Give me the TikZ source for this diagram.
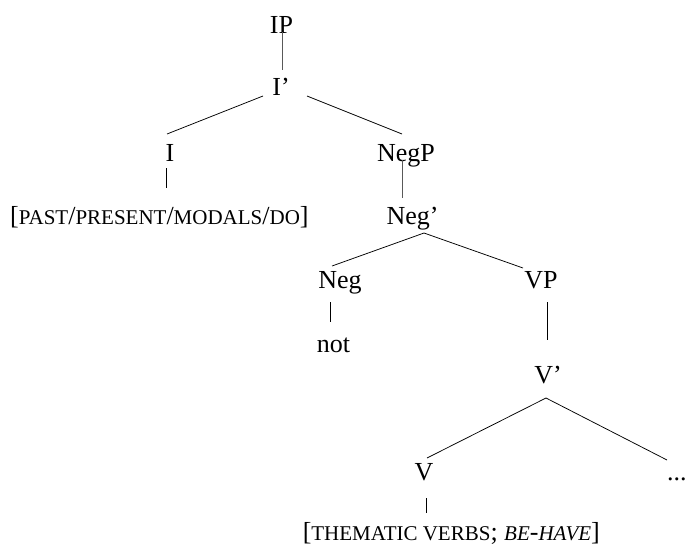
\documentclass[tikz,border=0pt]{standalone}
\usepackage{fontspec}
\setmainfont{Liberation Serif}
\usetikzlibrary{calc}

% small capitals drawn as reduced upper-case letters
\newcommand{\smallcapstext}[1]{{\fontsize{21}{21}\selectfont #1}}

\tikzset{
  lab/.style={inner sep=0pt, anchor=base, font=\fontsize{26}{26}\selectfont},
  branch/.style={line width=0.75pt, black},
  stem/.style={line width=0.8pt, black!65},
}

\begin{document}
\begin{tikzpicture}[x=1pt, y=-1pt]
  \useasboundingbox (0,0) rectangle (687,547);

  % labels of the tree
  \node[lab] (ip)   at (281.5,33)  {IP};
  \node[lab] (ibar) at (281,95)    {I’};
  \node[lab] (i)    at (170,161.5) {I};
  \node[lab] (negp) at (406,161.5) {NegP};
  \node[lab, anchor=base west] (ifeat) at (10,224)
    {[\smallcapstext{PAST}/\smallcapstext{PRESENT}/\smallcapstext{MODALS}/\smallcapstext{DO}]};
  \node[lab] (negbar) at (412.5,224) {Neg’};
  \node[lab] (neg)  at (340,288)   {Neg};
  \node[lab] (vp)   at (541,288)   {VP};
  \node[lab] (not)  at (333.5,352) {not};
  \node[lab] (vbar) at (548,383)   {V’};
  \node[lab] (v)    at (424,480)   {V};
  \node[lab, anchor=base west] (dots) at (667,480) {...};
  \node[lab, anchor=base east] (vfeat) at (600,540)
    {[\smallcapstext{THEMATIC VERBS}; \smallcapstext{\itshape BE}-\smallcapstext{\itshape HAVE}]};

  % branches
  \draw[stem]   ($(ip.base)+(0.5,-1)$) -- ($(ibar.base)+(1,-25)$);
  \draw[branch] ($(ibar.base)+(-18,1)$) -- ($(i.base)+(-3,-27.5)$);
  \draw[branch] ($(ibar.base)+(26,1)$) -- ($(negp.base)+(-4,-27.5)$);
  \draw[branch] ($(i.base)+(-4,6.5)$) -- ($(ifeat.base west)+(156,-36)$);
  \draw[stem]   ($(negp.base)+(-4,-1.5)$) -- ($(negbar.base)+(-10.5,-26)$);
  \draw[branch] ($(negbar.base)+(11.5,9)$) -- ($(neg.base)+(-8,-22)$);
  \draw[branch] ($(negbar.base)+(11.5,9)$) -- ($(vp.base)+(-18,-20)$);
  \draw[branch] ($(neg.base)+(-10,14)$) -- ($(not.base)+(-3.5,-30)$);
  \draw[branch] ($(vp.base)+(6,14)$) -- ($(vbar.base)+(-1,-43)$);
  \draw[branch] ($(vbar.base)+(-2,15)$) -- ($(v.base)+(3,-22)$);
  \draw[branch] ($(vbar.base)+(-2,15)$) -- ($(dots.base west)+(0,-20)$);
  \draw[branch] ($(v.base)+(2,18)$) -- ($(vfeat.base east)+(-174,-27)$);
\end{tikzpicture}
\end{document}
